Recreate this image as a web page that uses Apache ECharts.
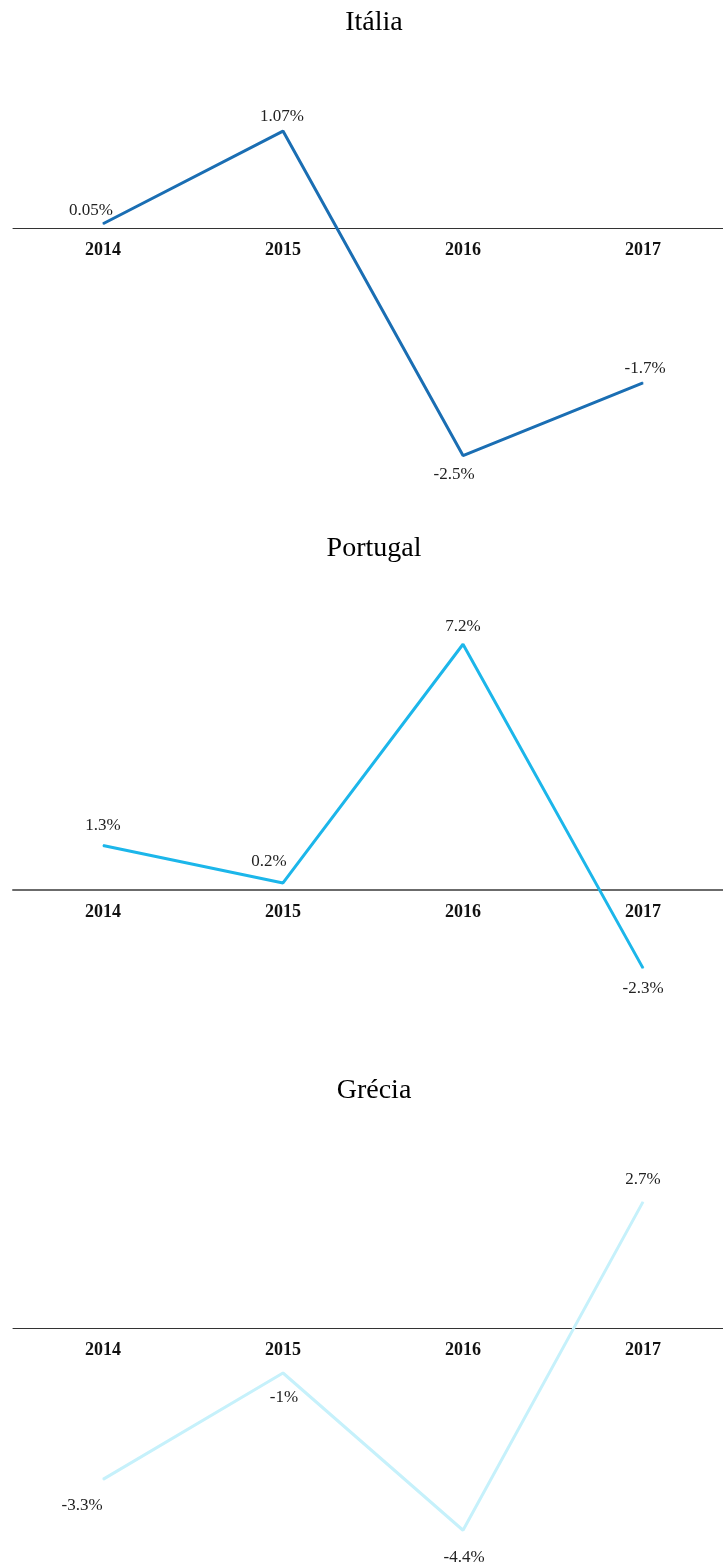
<!DOCTYPE html>
<html>
<head>
<meta charset="utf-8">
<script src="https://cdn.jsdelivr.net/npm/echarts@6/dist/echarts.min.js"></script>
<style>
html,body{margin:0;padding:0;background:#fff;overflow:hidden;}
#chart{width:733px;height:1566px;}
</style>
</head>
<body>
<div id="chart"></div>
<script>
// ---- data ----
var categories = ['2014', '2015', '2016', '2017'];
var titles = ['Itália', 'Portugal', 'Grécia'];
var italiaValues = [0.05, 1.07, -2.5, -1.7];
var portugalValues = [1.3, 0.2, 7.2, -2.3];
var greciaValues = [-3.3, -1, -4.4, 2.7];

// ---- styling (label offsets relative to the point) ----
var italiaLabelOffsets = [[-12, -13], [-1, -15], [-9, 19], [2, -14]];
var portugalLabelOffsets = [[0, -20], [-14, -21], [0, -18], [0, 20]];
var greciaLabelOffsets = [[-21, 26], [1, 25], [1, 27], [0, -22]];
var colors = ['#1a6eb3', '#1cb6ea', '#c6f1fb'];

var panels = [
  {values: italiaValues, offsets: italiaLabelOffsets, top: 92, height: 409, min: -3, max: 1.5, titleTop: 9, axisY: 228, axisColor: '#333', axisWidth: 1},
  {values: portugalValues, offsets: portugalLabelOffsets, top: 617, height: 375, min: -3, max: 8, titleTop: 535, axisY: 890, axisColor: '#6b6b6b', axisWidth: 2},
  {values: greciaValues, offsets: greciaLabelOffsets, top: 1188, height: 370, min: -5, max: 3, titleTop: 1077, axisY: 1328, axisColor: '#333', axisWidth: 1}
];

var serif = '"Liberation Serif", "Times New Roman", serif';
var option = {
  animation: false,
  backgroundColor: '#fff',
  title: [], grid: [], xAxis: [], yAxis: [], series: []
};

panels.forEach(function (p, i) {
  option.title.push({
    text: titles[i], left: 374, top: p.titleTop, textAlign: 'center', padding: 0,
    textStyle: {fontFamily: serif, fontSize: 28, fontWeight: 'normal', color: '#000'}
  });
  option.grid.push({left: 13, right: 0, top: p.top, height: p.height, containLabel: false});
  option.xAxis.push({
    type: 'category', gridIndex: i, data: categories, boundaryGap: true,
    position: 'bottom', offset: p.axisY - (p.top + p.height),
    axisLine: {onZero: false, lineStyle: {color: p.axisColor, width: p.axisWidth}},
    axisTick: {show: false},
    axisLabel: {margin: 13, fontFamily: serif, fontSize: 18, fontWeight: 'bold', color: '#111'},
    splitLine: {show: false}
  });
  option.yAxis.push({
    type: 'value', gridIndex: i, min: p.min, max: p.max, show: false,
    splitLine: {show: false}
  });
  option.series.push({
    type: 'line', xAxisIndex: i, yAxisIndex: i,
    data: p.values.map(function (v, k) {
      return {value: v, label: {offset: p.offsets[k]}};
    }),
    symbol: 'circle', symbolSize: 1, showSymbol: true,
    lineStyle: {color: colors[i], width: 3},
    itemStyle: {color: colors[i]},
    label: {
      show: true, position: 'inside',
      fontFamily: serif, fontSize: 17, color: '#222',
      formatter: function (prm) { return prm.value + '%'; }
    },
    emphasis: {disabled: true}
  });
});

var chart = echarts.init(document.getElementById('chart'), null, {renderer: 'canvas'});
chart.setOption(option);
</script>
</body>
</html>
